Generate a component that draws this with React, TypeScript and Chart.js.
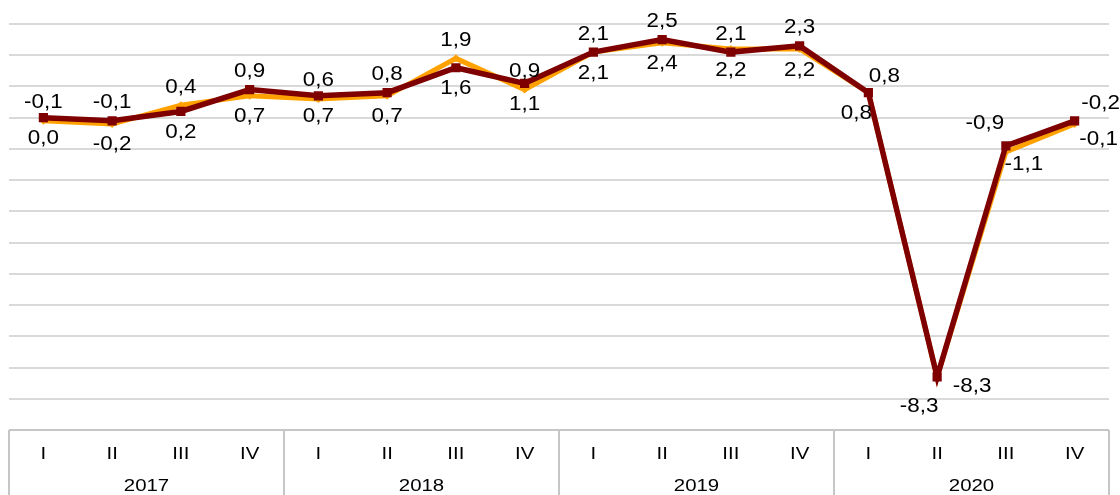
import React, { useEffect, useRef } from "react";
import { Chart, registerables } from "chart.js";

Chart.register(...registerables);

// ---- data ----
const years = ["2017", "2018", "2019", "2020"];
const quarters = ["I", "II", "III", "IV"];
const categories = years.flatMap((y) => quarters.map((q) => `${q} ${y}`));

const seriesRed = [0.0, -0.1, 0.2, 0.9, 0.7, 0.8, 1.6, 1.1, 2.1, 2.5, 2.1, 2.3, 0.8, -8.3, -0.9, -0.1];
const seriesOrange = [-0.1, -0.2, 0.4, 0.7, 0.6, 0.7, 1.9, 0.9, 2.1, 2.4, 2.2, 2.2, 0.8, -8.3, -1.1, -0.2];

const yMin = -10;
const yMax = 3;
const yStep = 1;

// label placement codes per point
const labelPosRed = ["b", "t", "b", "t", "b", "t", "b", "b", "t", "t", "t", "t", "rq", "bq", "tl", "br2"];
const labelPosOrange = ["t", "b", "t", "b", "t", "b", "t", "t", "b", "b", "b", "b", "bl", "rr", "br", "tr"];

// ---- styles ----
const RED = "#7f0000";
const ORANGE = "#ffa200";
const GRID = "#d9d9d9";
const BOX = "#c6c6c6";
const TEXT = "#000000";
const FONT = "'Liberation Sans', Arial, sans-serif";

const OFFSETS: Record<string, [number, number]> = {
  t: [0, -18],
  b: [0, 21],
  rq: [16, -16],
  bl: [-12, 21],
  rr: [35, 10],
  bq: [-18, 30],
  tl: [-21, -22],
  br: [18, 12],
  tr: [26, -20],
  br2: [24, 19],
};

const fmt = (v: number) => (Math.abs(v) < 1e-9 ? 0 : v).toFixed(1).replace(".", ",");

function drawText(
  ctx: CanvasRenderingContext2D,
  txt: string,
  x: number,
  y: number,
  size: number,
  sx: number
) {
  ctx.save();
  ctx.translate(x, y);
  ctx.scale(sx, 1);
  ctx.font = `${size}px ${FONT}`;
  ctx.fillStyle = TEXT;
  ctx.textAlign = "center";
  ctx.textBaseline = "middle";
  ctx.fillText(txt, 0, 0);
  ctx.restore();
}

const overlayPlugin = {
  id: "overlay",
  afterDatasetsDraw(chart: any) {
    const ctx: CanvasRenderingContext2D = chart.ctx;
    const posSets = [labelPosRed, labelPosOrange];
    chart.data.datasets.forEach((ds: any, di: number) => {
      const meta = chart.getDatasetMeta(di);
      meta.data.forEach((pt: any, i: number) => {
        const off = OFFSETS[posSets[di][i]] || [0, -18];
        drawText(ctx, fmt(ds.data[i]), pt.x + off[0], pt.y + off[1], 20, 1.12);
      });
    });
  },
  afterDraw(chart: any) {
    const ctx: CanvasRenderingContext2D = chart.ctx;
    const area = chart.chartArea;
    const xs = chart.scales.x;
    const bottom = chart.height;
    ctx.save();
    ctx.strokeStyle = BOX;
    ctx.lineWidth = 2;
    ctx.beginPath();
    ctx.moveTo(area.left, area.bottom);
    ctx.lineTo(area.right, area.bottom);
    const groupW = (area.right - area.left) / years.length;
    for (let k = 0; k <= years.length; k++) {
      const x = Math.round(area.left + k * groupW);
      ctx.moveTo(x, area.bottom);
      ctx.lineTo(x, bottom);
    }
    ctx.stroke();
    ctx.restore();
    categories.forEach((_, i) => {
      drawText(ctx, quarters[i % quarters.length], xs.getPixelForValue(i), area.bottom + 24, 17, 1.2);
    });
    years.forEach((y, k) => {
      drawText(ctx, y, area.left + (k + 0.5) * groupW, area.bottom + 56, 17, 1.2);
    });
  },
};

export default function App() {
  const ref = useRef<HTMLCanvasElement | null>(null);
  useEffect(() => {
    document.body.style.margin = "0";
    if (!ref.current) return;
    const chart = new Chart(ref.current, {
      type: "line",
      data: {
        labels: categories,
        datasets: [
          {
            label: "red",
            data: seriesRed,
            borderColor: RED,
            backgroundColor: RED,
            borderWidth: 5.5,
            pointStyle: "rect",
            pointRadius: 6.5,
            pointBackgroundColor: RED,
            pointBorderColor: RED,
            pointBorderWidth: 0,
            tension: 0,
            order: 0,
          },
          {
            label: "orange",
            data: seriesOrange,
            borderColor: ORANGE,
            backgroundColor: ORANGE,
            borderWidth: 5,
            pointStyle: "rectRot",
            pointRadius: 4,
            pointBackgroundColor: ORANGE,
            pointBorderColor: ORANGE,
            pointBorderWidth: 0,
            tension: 0,
            order: 1,
          },
        ],
      },
      options: {
        responsive: false,
        animation: false,
        devicePixelRatio: 1,
        layout: { padding: { left: 9, right: 11, top: 24, bottom: 65 } },
        plugins: {
          legend: { display: false },
          tooltip: { enabled: false },
        },
        scales: {
          x: {
            type: "category",
            display: false,
            offset: true,
          },
          y: {
            min: yMin,
            max: yMax,
            ticks: { display: false, stepSize: yStep },
            grid: { color: GRID, lineWidth: 2, drawTicks: false },
            border: { display: false },
            afterFit: (s: any) => {
              s.width = 0;
            },
          },
        },
      },
      plugins: [overlayPlugin],
    });
    return () => chart.destroy();
  }, []);
  return (
    <div style={{ position: "absolute", left: 0, top: 0, width: 1120, height: 495 }}>
      <canvas ref={ref} width={1120} height={495} />
    </div>
  );
}
